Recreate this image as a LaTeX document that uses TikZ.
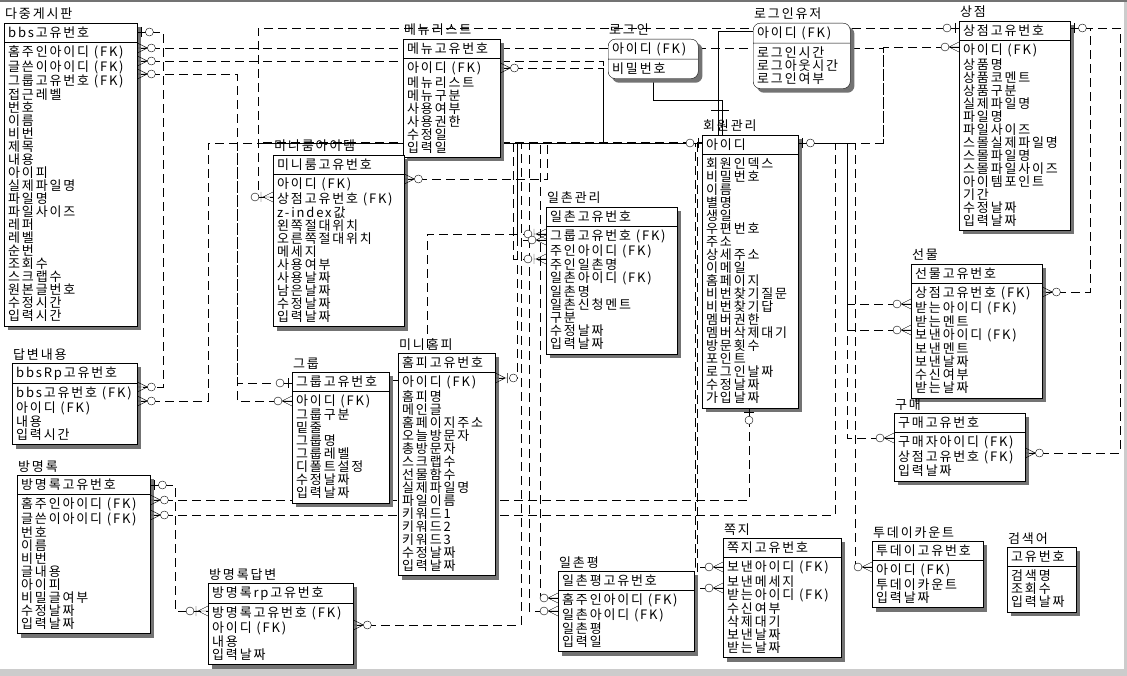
\documentclass[tikz,border=0pt]{standalone}
\usepackage{fontspec}
\newfontfamily\krfont[LetterSpace=14]{Noto Sans CJK KR}
\usetikzlibrary{shapes.multipart,backgrounds}

\newcommand\rw{\rule[-2pt]{0pt}{13pt}}
\newcommand\mmany[2]{\begin{scope}[shift={#1},#2]
  \draw (0,-5) -- (10,0) -- (0,5) (0,0) -- (10,0);
  \draw[fill=white] (14,0) circle (4);
\end{scope}}
\newcommand\mmanybar[2]{\begin{scope}[shift={#1},#2]
  \draw (0,-5) -- (10,0) -- (0,5) (0,0) -- (12,0) (12,-5) -- (12,5);
  \draw[fill=white] (18,0) circle (4);
\end{scope}}
\newcommand\mone[2]{\begin{scope}[shift={#1},#2]
  \draw (0,0) -- (8,0) (4,-5) -- (4,5);
  \draw[fill=white] (12,0) circle (4);
\end{scope}}

\begin{document}
\begin{tikzpicture}[x=1pt,y=-1pt,
  ent/.style={rectangle split,rectangle split parts=2,draw,fill=white,
    rectangle split part align=left,align=left,anchor=north west,
    inner xsep=4pt,inner ysep=3pt,font=\krfont\fontsize{13}{13}\selectfont},
  etitle/.style={anchor=base west,inner sep=0pt,font=\krfont\fontsize{13}{13}\selectfont},
  eshadow/.style={fill=black!55},
  rel/.style={dash pattern=on 9pt off 5pt}]
\useasboundingbox (0,0) rectangle (1127,676);

% entities
\node[ent,minimum width=133pt] (bbs) at (4,23) {\rw bbs고유번호\nodepart{two}\rw 홈주인아이디 (FK)\\글쓴이아이디 (FK)\\그룹고유번호 (FK)\\접근레벨\\번호\\이름\\비번\\제목\\내용\\아이피\\실제파일명\\파일명\\파일사이즈\\레퍼\\레벨\\순번\\조회수\\스크랩수\\원본글번호\\수정시간\\입력시간\rw};
\node[ent,minimum width=125pt] (bbsrp) at (12,363) {\rw bbsRp고유번호\nodepart{two}\rw bbs고유번호 (FK)\\아이디 (FK)\\내용\\입력시간\rw};
\node[ent,minimum width=133pt] (gb) at (17,475) {\rw 방명록고유번호\nodepart{two}\rw 홈주인아이디 (FK)\\글쓴이아이디 (FK)\\번호\\이름\\비번\\글내용\\아이피\\비밀글여부\\수정날짜\\입력날짜\rw};
\node[ent,minimum width=145pt] (gbrp) at (208,583) {\rw 방명록rp고유번호\nodepart{two}\rw 방명록고유번호 (FK)\\아이디 (FK)\\내용\\입력날짜\rw};
\node[ent,minimum width=97pt] (menu) at (403,39) {\rw 메뉴고유번호\nodepart{two}\rw 아이디 (FK)\\메뉴리스트\\메뉴구분\\사용여부\\사용권한\\수정일\\입력일\rw};
\node[ent,minimum width=131pt] (mini) at (273,155) {\rw 미니룸고유번호\nodepart{two}\rw 아이디 (FK)\\상점고유번호 (FK)\\z-index값\\왼쪽절대위치\\오른쪽절대위치\\메세지\\사용여부\\사용날짜\\남은날짜\\수정날짜\\입력날짜\rw};
\node[ent,minimum width=97pt] (grp) at (292,372) {\rw 그룹고유번호\nodepart{two}\rw 아이디 (FK)\\그룹구분\\밑줄\\그룹명\\그룹레벨\\디폴트설정\\수정날짜\\입력날짜\rw};
\node[ent,minimum width=97pt] (home) at (398,353) {\rw 홈피고유번호\nodepart{two}\rw 아이디 (FK)\\홈피명\\메인글\\홈페이지주소\\오늘방문자\\총방문자\\스크랩수\\선물함수\\실제파일명\\파일이름\\키워드1\\키워드2\\키워드3\\수정날짜\\입력날짜\rw};
\node[ent,minimum width=90pt,rounded corners=7pt] (login) at (608,39) {\rw 아이디 (FK)\nodepart{two}\rw 비밀번호\rw};
\node[ent,minimum width=97pt,rounded corners=7pt] (loginuser) at (753,23) {\rw 아이디 (FK)\nodepart{two}\rw 로그인시간\\로그아웃시간\\로그인여부\rw};
\node[ent,minimum width=96pt] (member) at (702,135) {\rw 아이디\nodepart{two}\rw 회원인덱스\\비밀번호\\이름\\별명\\생일\\우편번호\\주소\\상세주소\\이메일\\홈페이지\\비번찾기질문\\비번찾기답\\멤버권한\\멤버삭제대기\\방문횟수\\포인트\\로그인날짜\\수정날짜\\가입날짜\rw};
\node[ent,minimum width=131pt] (ilchon) at (546,207) {\rw 일촌고유번호\nodepart{two}\rw 그룹고유번호 (FK)\\주인아이디 (FK)\\주인일촌명\\일촌아이디 (FK)\\일촌명\\일촌신청멘트\\구분\\수정날짜\\입력날짜\rw};
\node[ent,minimum width=136pt] (ilchonpy) at (558,571) {\rw 일촌평고유번호\nodepart{two}\rw 홈주인아이디 (FK)\\일촌아이디 (FK)\\일촌평\\입력일\rw};
\node[ent,minimum width=118pt] (note) at (723,538) {\rw 쪽지고유번호\nodepart{two}\rw 보낸아이디 (FK)\\보낸메세지\\받는아이디 (FK)\\수신여부\\삭제대기\\보낸날짜\\받는날짜\rw};
\node[ent,minimum width=111pt] (shop) at (959,21) {\rw 상점고유번호\nodepart{two}\rw 아이디 (FK)\\상품명\\상품코멘트\\상품구분\\실제파일명\\파일명\\파일사이즈\\스몰실제파일명\\스몰파일명\\스몰파일사이즈\\아이템포인트\\기간\\수정날짜\\입력날짜\rw};
\node[ent,minimum width=131pt] (gift) at (911,264) {\rw 선물고유번호\nodepart{two}\rw 상점고유번호 (FK)\\받는아이디 (FK)\\받는멘트\\보낸아이디 (FK)\\보낸멘트\\보낸날짜\\수신여부\\받는날짜\rw};
\node[ent,minimum width=131pt] (buy) at (894,413) {\rw 구매고유번호\nodepart{two}\rw 구매자아이디 (FK)\\상점고유번호 (FK)\\입력날짜\rw};
\node[ent,minimum width=111pt] (today) at (872,541) {\rw 투데이고유번호\nodepart{two}\rw 아이디 (FK)\\투데이카운트\\입력날짜\rw};
\node[ent,minimum width=69pt] (search) at (1007,547) {\rw 고유번호\nodepart{two}\rw 검색명\\조회수\\입력날짜\rw};

\foreach \e/\t in {bbs/다중게시판,bbsrp/답변내용,gb/방명록,gbrp/방명록답변,menu/메뉴리스트,
  mini/미니룸아이템,grp/그룹,home/미니홈피,login/로그인,loginuser/로그인유저,member/회원관리,
  ilchon/일촌관리,ilchonpy/일촌평,note/쪽지,shop/상점,gift/선물,buy/구매,today/투데이카운트,search/검색어}
  \node[etitle] at ([xshift=1pt,yshift=4pt]\e.north west) {\t};

% relationships
\begin{scope}[on background layer]
\fill[white] (0,0) rectangle (1127,676);
\fill[black!55] (0,0) rectangle (1127,2);
\fill[black!20] (0,669) rectangle (1127,676);
\fill[black!20] (1124,2) rectangle (1127,669);
\draw[rel] (bbs.east |- 0,32) -| (163,387) -- (bbsrp.east |- 0,387);
\draw[rel] (bbs.east |- 0,48) -| (883,143) -- (member.east |- 0,143);
\draw[rel] (bbs.east |- 0,61) -| (603,143) -- (member.west |- 0,143);
\draw[rel] (bbs.east |- 0,74) -| (237,383) -- (grp.west |- 0,383);
\draw[rel] (bbsrp.east |- 0,401) -| (208,143) -- (member.west |- 0,143);
\draw[rel] (shop.west |- 0,28) -| (258,197) -- (mini.west |- 0,197);
\draw[rel] (shop.west |- 0,47) -| (883,143);
\draw[rel] (shop.east |- 0,28) -| (1090,292) -- (gift.east |- 0,292);
\draw[rel] (shop.east |- 0,28) -| (1120,453) -- (buy.east |- 0,453);
\draw[rel] (mini.east |- 0,179) -| (547,143);
\draw[rel] (menu.east |- 0,68) -| (603,143);
\draw (member.north -| 722,0) |- (653,100) -- (login.south -| 653,0);
\draw (member.north -| 718,0) |- (loginuser.west |- 0,31);
\draw[rel] (grp.west |- 0,401) -| (237,143);
\draw[rel] (grp.east |- 0,380) -| (427,234) -- (ilchon.west |- 0,234);
\draw[rel] (ilchon.west |- 0,240) -| (517,143);
\draw[rel] (ilchon.west |- 0,259) -| (513,143);
\draw[rel] (home.east |- 0,378) -| (517,143);
\draw[rel] (gb.east |- 0,485) -| (175,611) -- (gbrp.west |- 0,611);
\draw[rel] (gb.east |- 0,500) -| (member.south -| 749,0);
\draw[rel] (gb.east |- 0,515) -| (835,143);
\draw[rel] (gbrp.east |- 0,625) -| (521,143);
\draw[rel] (ilchonpy.west |- 0,598) -| (540,143);
\draw[rel] (ilchonpy.west |- 0,611) -| (529,143);
\draw[rel] (note.west |- 0,567) -| (695,143);
\draw[rel] (note.west |- 0,588) -| (697,143);
\draw[rel] (gift.west |- 0,304) -| (847,143);
\draw[rel] (gift.west |- 0,330) -| (847,143);
\draw[rel] (buy.west |- 0,438) -| (847,143);
\draw[rel] (today.west |- 0,567) -| (855,143) -- (member.east |- 0,143);
\draw[line width=1.2pt,rel] (263,143) -- (member.west |- 0,143);
\foreach \e in {bbs,bbsrp,gb,gbrp,menu,mini,grp,home,member,ilchon,ilchonpy,note,shop,gift,buy,today,search}
  \fill[eshadow] ([xshift=4pt,yshift=-4pt]\e.north west) rectangle ([xshift=4pt,yshift=-4pt]\e.south east);
\foreach \e in {login,loginuser}
  \fill[eshadow,rounded corners=7pt] ([xshift=4pt,yshift=-4pt]\e.north west) rectangle ([xshift=4pt,yshift=-4pt]\e.south east);
\end{scope}
\draw (711,110) -- (729,110);

% marks
\mone{(bbs.east |- 0,32)}{}
\mmany{(bbs.east |- 0,48)}{}
\mmany{(bbs.east |- 0,61)}{}
\mmany{(bbs.east |- 0,74)}{}
\mmany{(bbsrp.east |- 0,387)}{}
\mmany{(bbsrp.east |- 0,401)}{}
\mmany{(menu.east |- 0,68)}{}
\mmany{(mini.east |- 0,179)}{}
\mmanybar{(mini.west |- 0,197)}{xscale=-1}
\mone{(shop.west |- 0,28)}{xscale=-1}
\mmany{(shop.west |- 0,47)}{xscale=-1}
\mone{(shop.east |- 0,28)}{}
\mmany{(gift.east |- 0,292)}{}
\mmany{(gift.west |- 0,304)}{xscale=-1}
\mmany{(gift.west |- 0,330)}{xscale=-1}
\mmany{(buy.west |- 0,438)}{xscale=-1}
\mmany{(buy.east |- 0,453)}{}
\mone{(member.west |- 0,143)}{xscale=-1}
\mone{(member.east |- 0,143)}{}
\mone{(member.south -| 749,0)}{rotate=-90}
\mone{(grp.west |- 0,383)}{xscale=-1}
\mmany{(grp.west |- 0,401)}{xscale=-1}
\mmanybar{(home.east |- 0,378)}{}
\mmanybar{(ilchon.west |- 0,234)}{xscale=-1}
\mmany{(ilchon.west |- 0,240)}{xscale=-1}
\mmanybar{(ilchon.west |- 0,259)}{xscale=-1}
\mone{(gb.east |- 0,485)}{}
\mmany{(gb.east |- 0,500)}{}
\mmany{(gb.east |- 0,515)}{}
\mmanybar{(gbrp.west |- 0,611)}{xscale=-1}
\mmany{(gbrp.east |- 0,625)}{}
\mmany{(ilchonpy.west |- 0,598)}{xscale=-1}
\mmany{(ilchonpy.west |- 0,611)}{xscale=-1}
\mmany{(note.west |- 0,567)}{xscale=-1}
\mmany{(note.west |- 0,588)}{xscale=-1}
\mmany{(today.west |- 0,567)}{xscale=-1}
\end{tikzpicture}
\end{document}
